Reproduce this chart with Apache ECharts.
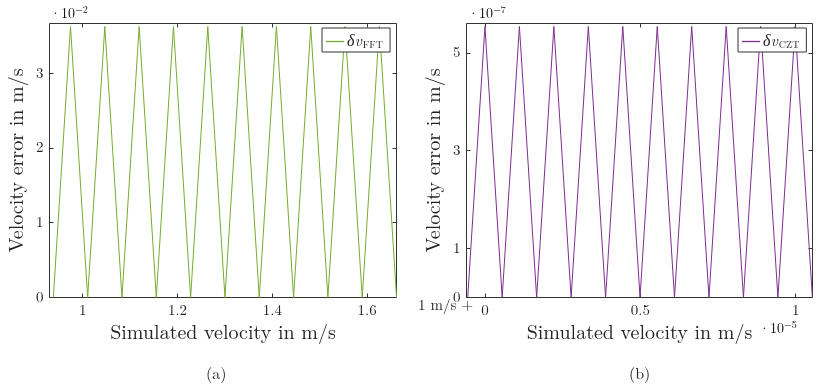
<!DOCTYPE html>
<html>
<head>
<meta charset="utf-8">
<script src="https://cdn.jsdelivr.net/npm/echarts@6/dist/echarts.min.js"></script>
<style>
html,body{margin:0;padding:0;background:#fff;}
#c{width:816px;height:391px;}
</style>
</head>
<body>
<div id="c"></div>
<script>
// ---- data ----
// (a) FFT: simulated velocity (m/s) vs velocity error (m/s)
const fftVelocity = [0.9381, 0.9743, 1.0105, 1.0467, 1.0829, 1.1191, 1.1553, 1.1915, 1.2277, 1.2639, 1.3001,
                     1.3363, 1.3725, 1.4087, 1.4449, 1.4811, 1.5173, 1.5535, 1.5897, 1.6259, 1.6621];
const fftError = [0, 0.0362, 0, 0.0362, 0, 0.0362, 0, 0.0362, 0, 0.0362, 0,
                  0.0362, 0, 0.0362, 0, 0.0362, 0, 0.0362, 0, 0.0362, 0];
// (b) CZT: simulated velocity offset from 1 m/s (m/s) vs velocity error (m/s)
const cztOffset = [-0.0554e-5, 0, 0.0555e-5, 0.1109e-5, 0.1664e-5, 0.2218e-5, 0.2773e-5, 0.3327e-5, 0.3882e-5,
                   0.4436e-5, 0.4991e-5, 0.5545e-5, 0.6100e-5, 0.6654e-5, 0.7209e-5, 0.7763e-5, 0.8318e-5,
                   0.8872e-5, 0.9427e-5, 0.9981e-5, 1.0536e-5];
const cztError = [0, 5.54e-7, 0, 5.54e-7, 0, 5.54e-7, 0, 5.54e-7, 0, 5.54e-7, 0,
                  5.54e-7, 0, 5.54e-7, 0, 5.54e-7, 0, 5.54e-7, 0, 5.54e-7, 0];
// tick values
const fftXTicks = [1, 1.2, 1.4, 1.6];
const fftYTicks = [0, 0.01, 0.02, 0.03];
const cztXTicks = [0, 0.5e-5, 1e-5];
const cztYTicks = [0, 1e-7, 3e-7, 5e-7];
const fftName = 'δv_FFT';
const cztName = 'δv_CZT';

// ---- styling ----
const SERIF = "'Latin Modern Roman','CMU Serif','Liberation Serif','DejaVu Serif',serif";
const TXT = '#222';
const FRAME = '#333';
const GREEN = '#77AC30';
const PURPLE = '#7E2F8E';

const fmt = (v, s) => String(+(v * s).toFixed(3));

function xAxisCfg(grid, min, max, ticks, scale, name, showLabel, pos) {
  return {
    type: 'value', gridIndex: grid, min: min, max: max, position: pos,
    splitLine: {show: false},
    axisLine: {show: false, onZero: false},
    axisTick: {show: true, inside: true, length: 4, customValues: ticks, lineStyle: {color: FRAME, width: 1}},
    axisLabel: {show: showLabel, customValues: ticks, formatter: v => fmt(v, scale),
      fontFamily: SERIF, fontSize: 15, color: TXT, margin: 5},
    name: showLabel ? name : '', nameLocation: 'middle', nameGap: 25,
    nameTextStyle: {fontFamily: SERIF, fontSize: 20, color: TXT}
  };
}
function yAxisCfg(grid, min, max, ticks, scale, name, showLabel, pos) {
  return {
    type: 'value', gridIndex: grid, min: min, max: max, position: pos,
    splitLine: {show: false},
    axisLine: {show: false, onZero: false},
    axisTick: {show: true, inside: true, length: 4, customValues: ticks, lineStyle: {color: FRAME, width: 1}},
    axisLabel: {show: showLabel, customValues: ticks, formatter: v => fmt(v, scale),
      fontFamily: SERIF, fontSize: 15, color: TXT, margin: 6},
    name: showLabel ? name : '', nameLocation: 'middle', nameGap: 23, nameRotate: 90,
    nameTextStyle: {fontFamily: SERIF, fontSize: 20, color: TXT}
  };
}

const legendRich = {
  a: {fontFamily: SERIF, fontStyle: 'italic', fontSize: 16, color: TXT, lineHeight: 17, verticalAlign: 'top'},
  b: {fontFamily: SERIF, fontSize: 10, color: TXT, lineHeight: 10, padding: [9, 0, 0, 1], verticalAlign: 'bottom'}
};
function legendCfg(left, name, sub, color) {
  return {
    left: left, top: 28, orient: 'vertical',
    data: [{name: name, icon: 'rect', itemStyle: {color: color, borderWidth: 0, opacity: 1}}],
    backgroundColor: '#fff', borderColor: FRAME, borderWidth: 1, borderRadius: 0,
    padding: [3, 7, 2, 4], itemWidth: 18, itemHeight: 1.3, itemGap: 4,
    formatter: () => '{a|δv}{b|' + sub + '}',
    textStyle: {rich: legendRich, padding: [0, 0, 0, -2]}
  };
}

const chart = echarts.init(document.getElementById('c'), null, {renderer: 'canvas'});
chart.setOption({
  animation: false,
  backgroundColor: '#fff',
  grid: [
    {left: 49.5, top: 23.5, width: 347, height: 274, show: true, borderColor: FRAME, borderWidth: 1, backgroundColor: 'transparent'},
    {left: 466.5, top: 23.5, width: 346, height: 274, show: true, borderColor: FRAME, borderWidth: 1, backgroundColor: 'transparent'}
  ],
  xAxis: [
    xAxisCfg(0, 0.93, 1.662, fftXTicks, 1, 'Simulated velocity in m/s', true, 'bottom'),
    xAxisCfg(0, 0.93, 1.662, fftXTicks, 1, '', false, 'top'),
    xAxisCfg(1, -0.0593e-5, 1.054e-5, cztXTicks, 1e5, 'Simulated velocity in m/s', true, 'bottom'),
    xAxisCfg(1, -0.0593e-5, 1.054e-5, cztXTicks, 1e5, '', false, 'top')
  ],
  yAxis: [
    yAxisCfg(0, 0, 0.0366, fftYTicks, 100, 'Velocity error in m/s', true, 'left'),
    yAxisCfg(0, 0, 0.0366, fftYTicks, 100, '', false, 'right'),
    yAxisCfg(1, 0, 5.6e-7, cztYTicks, 1e7, 'Velocity error in m/s', true, 'left'),
    yAxisCfg(1, 0, 5.6e-7, cztYTicks, 1e7, '', false, 'right')
  ],
  legend: [legendCfg(322, fftName, 'FFT', GREEN), legendCfg(738, cztName, 'CZT', PURPLE)],
  series: [
    {name: fftName, type: 'line', xAxisIndex: 0, yAxisIndex: 0, symbol: 'none',
     lineStyle: {color: GREEN, width: 1}, itemStyle: {color: GREEN},
     data: fftVelocity.map((v, i) => [v, fftError[i]])},
    {name: cztName, type: 'line', xAxisIndex: 2, yAxisIndex: 2, symbol: 'none',
     lineStyle: {color: PURPLE, width: 1}, itemStyle: {color: PURPLE},
     data: cztOffset.map((v, i) => [v, cztError[i]])}
  ],
  graphic: [
    {type: 'text', left: 50, top: 1, style: {text: '{d|·10}{s|−2}', rich: {
      d: {fontFamily: SERIF, fontSize: 14, color: TXT, lineHeight: 16, verticalAlign: 'bottom', padding: [6, 0, 0, 0]},
      s: {fontFamily: SERIF, fontSize: 10, color: TXT, lineHeight: 10, verticalAlign: 'top'}}}},
    {type: 'text', left: 468, top: 1, style: {text: '{d|·10}{s|−7}', rich: {
      d: {fontFamily: SERIF, fontSize: 14, color: TXT, lineHeight: 16, verticalAlign: 'bottom', padding: [6, 0, 0, 0]},
      s: {fontFamily: SERIF, fontSize: 10, color: TXT, lineHeight: 10, verticalAlign: 'top'}}}},
    {type: 'text', left: 759, top: 316, style: {text: '{d|·10}{s|−5}', rich: {
      d: {fontFamily: SERIF, fontSize: 14, color: TXT, lineHeight: 16, verticalAlign: 'bottom', padding: [6, 0, 0, 0]},
      s: {fontFamily: SERIF, fontSize: 10, color: TXT, lineHeight: 10, verticalAlign: 'top'}}}},
    {type: 'text', left: 418, top: 298, style: {text: '1 m/s +', fontFamily: SERIF, fontSize: 15, fill: TXT}},
    {type: 'text', left: 206, top: 366, style: {text: '(a)', fontFamily: SERIF, fontSize: 16, fill: TXT}},
    {type: 'text', left: 629, top: 366, style: {text: '(b)', fontFamily: SERIF, fontSize: 16, fill: TXT}}
  ]
});
</script>
</body>
</html>
